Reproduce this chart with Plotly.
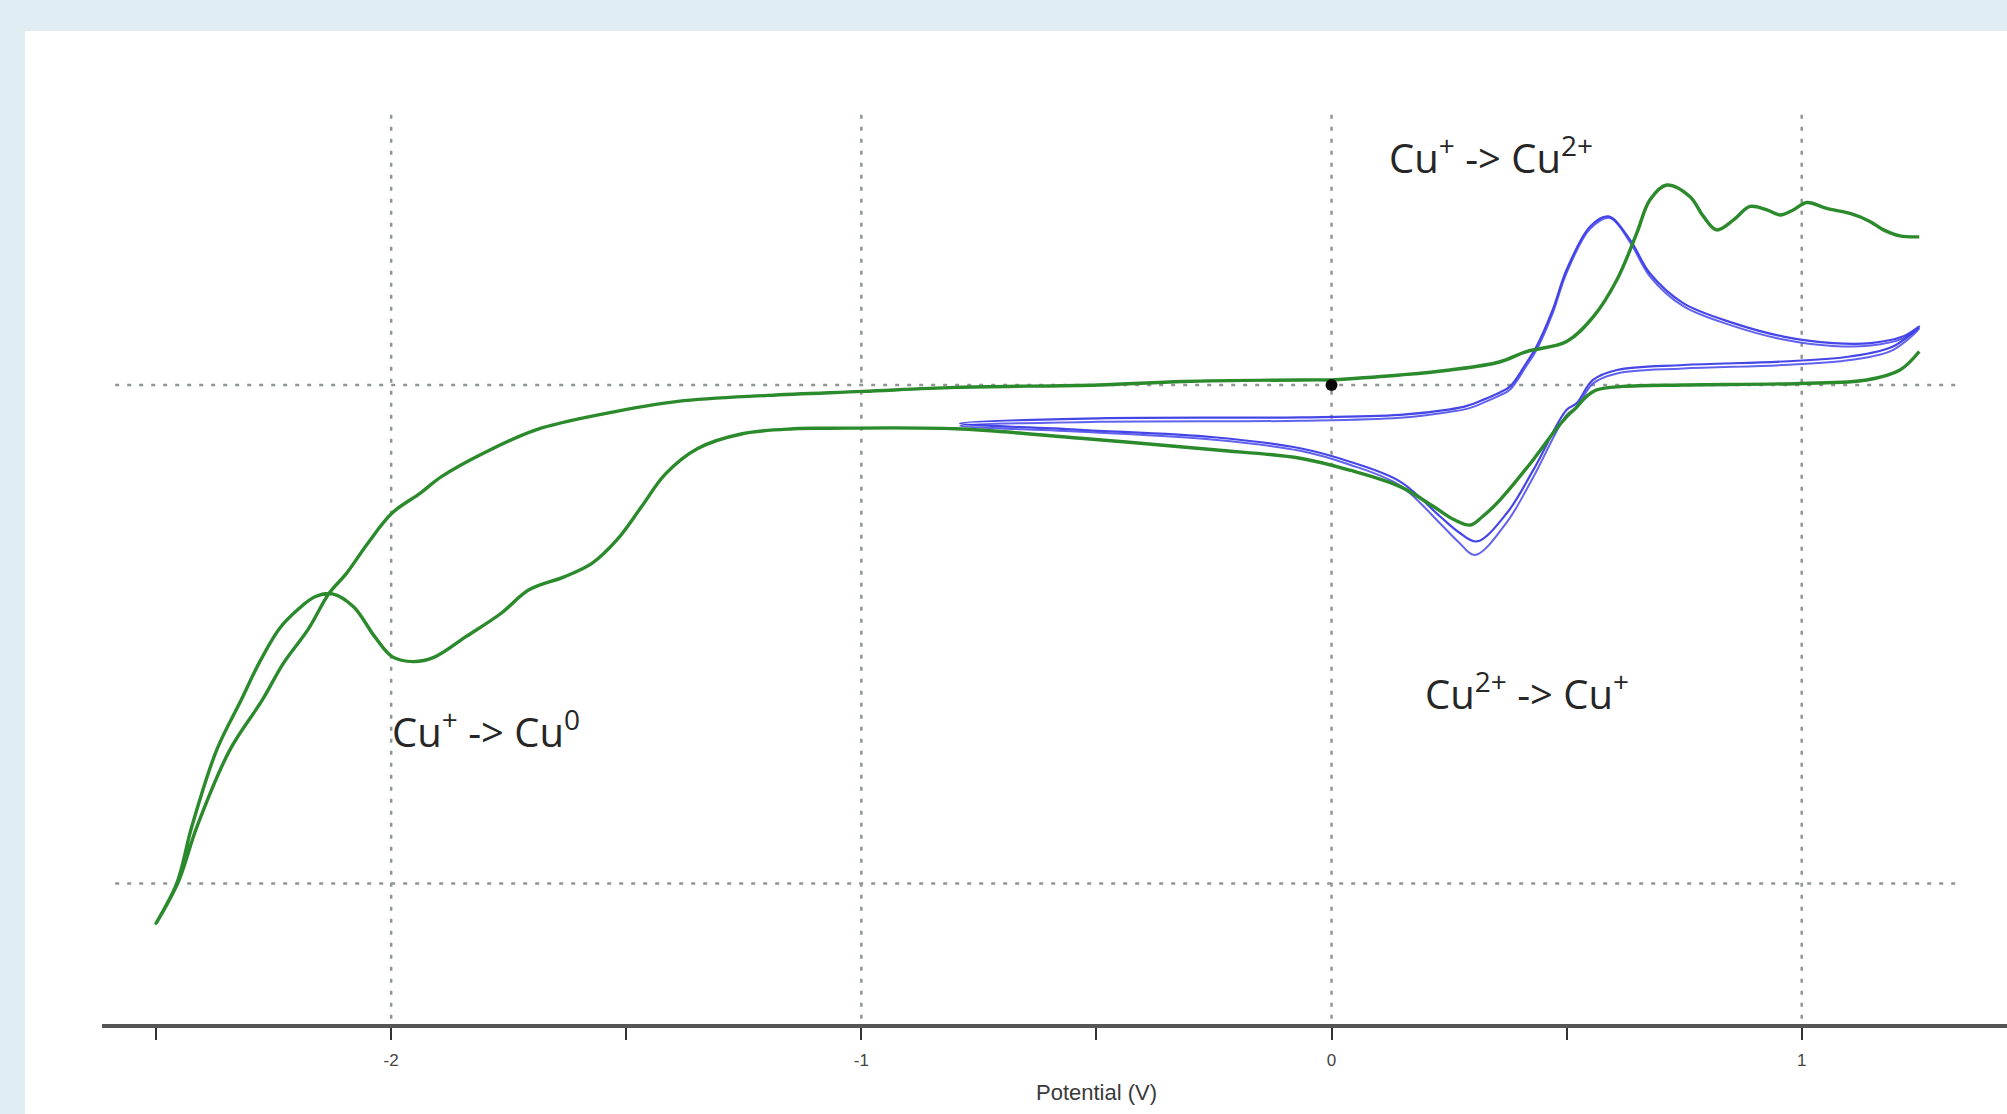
import plotly.graph_objects as go

# ---------------- data (potential in V, current in arbitrary units) ----------------
# Green CV, forward sweep: 0 V -> +1.25 V (upper branch)
green_fwd_v = [0.000, 0.146, 0.252, 0.357, 0.415, 0.500, 0.557, 0.607, 0.649, 0.677, 0.713, 0.762,
               0.791, 0.819, 0.855, 0.890, 0.926, 0.954, 0.982, 1.011, 1.053, 1.103, 1.145, 1.174,
               1.209, 1.250]
green_fwd_i = [1.0, 2.0, 3.0, 4.6, 6.7, 8.7, 13.7, 21.1, 30.4, 37.1, 40.1, 37.8,
               33.8, 31.1, 33.1, 35.8, 35.1, 34.1, 35.1, 36.6, 35.4, 34.4, 32.8, 31.1,
               29.9, 29.7]

# Green CV, reverse sweep +1.25 V -> -2.5 V, then back to 0 V
green_rev_v = [1.250, 1.209, 1.138, 0.996, 0.748, 0.620, 0.564, 0.540, 0.521, 0.500, 0.479, 0.429,
               0.358, 0.320, 0.295, 0.260, 0.217, 0.146, 0.039, -0.067, -0.250, -0.534, -0.799,
               -1.073, -1.144, -1.253, -1.349, -1.417, -1.468, -1.520, -1.573, -1.632, -1.707,
               -1.766, -1.841, -1.908, -1.953, -1.998, -2.035, -2.080, -2.125, -2.162, -2.199,
               -2.237, -2.281, -2.319, -2.371, -2.424, -2.456, -2.500,
               -2.454, -2.413, -2.343, -2.274, -2.229, -2.177, -2.132, -2.095, -2.050, -1.998,
               -1.938, -1.893, -1.804, -1.692, -1.543, -1.390, -1.199, -0.997, -0.799, -0.496,
               -0.316, -0.061, 0.000]
green_rev_i = [6.7, 3.0, 1.0, 0.3, 0.0, -0.3, -1.0, -2.5, -4.5, -6.4, -8.7, -15.0,
               -23.1, -26.5, -28.1, -27.0, -24.4, -20.4, -17.1, -14.7, -13.0, -10.7, -8.8,
               -8.7, -8.8, -9.8, -12.8, -17.9, -24.5, -31.1, -35.8, -38.5, -41.1,
               -45.8, -50.5, -54.6, -55.5, -54.5, -50.5, -44.5, -41.9, -42.5, -45.1,
               -48.8, -55.8, -63.2, -73.2, -88.6, -100.0, -108.0,
               -100.0, -88.6, -73.2, -63.2, -55.8, -49.1, -41.8, -37.8, -31.8, -25.7,
               -21.7, -18.4, -13.7, -9.0, -5.7, -3.3, -2.1, -1.3, -0.5, 0.0,
               0.7, 1.0, 1.0]

# Blue CV, cycle 1: -0.79 V -> +1.25 V -> -0.79 V
blue1_v = [-0.790, -0.496, -0.067, 0.146, 0.252, 0.288, 0.322, 0.358, 0.380, 0.415, 0.436,
           0.470, 0.500, 0.550, 0.589, 0.635, 0.677, 0.748, 0.855, 0.961, 1.067, 1.147,
           1.215, 1.250,
           1.194, 1.103, 0.960, 0.748, 0.607, 0.556, 0.521, 0.500, 0.429, 0.373, 0.309,
           0.270, 0.231, 0.146, 0.039, -0.067, -0.250, -0.534, -0.790]
blue1_i = [-7.7, -6.7, -6.5, -6.0, -4.9, -4.2, -3.0, -1.5, -0.3, 4.5, 7.7,
           15.0, 23.1, 31.8, 33.8, 29.1, 22.4, 16.4, 12.4, 9.7, 8.4, 8.4,
           9.7, 11.7,
           7.7, 5.7, 4.7, 4.0, 3.0, 1.0, -3.7, -5.0, -17.1, -25.7, -31.4,
           -29.5, -26.4, -19.4, -15.4, -12.7, -10.5, -9.0, -7.7]

# Blue CV, cycle 2
blue2_v = [-0.790, -0.496, -0.067, 0.146, 0.252, 0.288, 0.322, 0.358, 0.380, 0.415, 0.436,
           0.470, 0.500, 0.550, 0.592, 0.635, 0.677, 0.748, 0.855, 0.961, 1.067, 1.147,
           1.215, 1.250,
           1.194, 1.103, 0.960, 0.748, 0.607, 0.556, 0.521, 0.500, 0.429, 0.373, 0.305,
           0.270, 0.231, 0.146, 0.039, -0.067, -0.250, -0.534, -0.790]
blue2_i = [-8.2, -7.4, -7.2, -6.6, -5.4, -4.8, -3.6, -2.1, -0.9, 3.9, 7.0,
           14.3, 22.5, 31.3, 33.5, 28.6, 21.8, 15.8, 11.8, 9.1, 7.8, 7.9,
           9.3, 11.3,
           7.0, 5.0, 4.0, 3.3, 2.3, 0.3, -4.5, -6.0, -18.5, -27.5, -34.1,
           -31.5, -27.8, -20.2, -16.0, -13.2, -11.0, -9.4, -8.2]

start_v = [0.0]
start_i = [0.0]

tick_vals = [-2.5, -2.0, -1.5, -1.0, -0.5, 0.0, 0.5, 1.0]
tick_text = ["", "-2", "", "-1", "", "0", "", "1"]
grid_v = [-2.0, -1.0, 0.0, 1.0]
grid_i = [0.0, -100.0]

labels = [
    dict(text="Cu<sup>+</sup> -&gt; Cu<sup>2+</sup>", x=0.340, y=46.0, xanchor="center"),
    dict(text="Cu<sup>2+</sup> -&gt; Cu<sup>+</sup>", x=0.416, y=-61.4, xanchor="center"),
    dict(text="Cu<sup>+</sup> -&gt; Cu<sup>0</sup>", x=-2.003, y=-69.2, xanchor="left"),
]

# ---------------- figure ----------------
W, H = 2007, 1114
ML, MR, MT, MB = 102, 0, 31, 90
XR = [-2.615, 1.4366]
YR = [-128.2, 71.0]

GREEN = "#2b8a2b"
SMOOTH = 1.0

fig = go.Figure()

fig.add_trace(go.Scatter(x=blue2_v, y=blue2_i, mode="lines",
                         line=dict(color="rgba(70,70,235,0.85)", width=2, shape="spline", smoothing=SMOOTH),
                         hoverinfo="skip", showlegend=False))
fig.add_trace(go.Scatter(x=blue1_v, y=blue1_i, mode="lines",
                         line=dict(color="rgba(60,60,230,0.95)", width=2.2, shape="spline", smoothing=SMOOTH),
                         hoverinfo="skip", showlegend=False))
fig.add_trace(go.Scatter(x=green_rev_v, y=green_rev_i, mode="lines",
                         line=dict(color=GREEN, width=3.4, shape="spline", smoothing=SMOOTH),
                         hoverinfo="skip", showlegend=False))
fig.add_trace(go.Scatter(x=green_fwd_v, y=green_fwd_i, mode="lines",
                         line=dict(color=GREEN, width=3.4, shape="spline", smoothing=SMOOTH),
                         hoverinfo="skip", showlegend=False))
fig.add_trace(go.Scatter(x=start_v, y=start_i, mode="markers",
                         marker=dict(color="#0a0a0a", size=12),
                         hoverinfo="skip", showlegend=False))

pw = W - ML - MR
ph = H - MT - MB
shapes = [
    # white panel
    dict(type="rect", xref="paper", yref="paper", layer="below",
         x0=(25 - ML) / pw, x1=1.0, y0=-(MB + 5) / ph, y1=1.0,
         fillcolor="white", line=dict(width=0)),
]
for gv in grid_v:
    shapes.append(dict(type="line", xref="x", yref="y", layer="below",
                       x0=gv, x1=gv, y0=54.2, y1=YR[0],
                       line=dict(color="#8f9696", width=2.5, dash="4px,8px")))
for gi in grid_i:
    shapes.append(dict(type="line", xref="x", yref="y", layer="below",
                       x0=-2.587, x1=1.328, y0=gi, y1=gi,
                       line=dict(color="#8f9696", width=2.5, dash="4px,8px")))

annotations = []
for lab in labels:
    annotations.append(dict(text=lab["text"], x=lab["x"], y=lab["y"], xref="x", yref="y",
                            xanchor=lab["xanchor"], yanchor="middle", showarrow=False,
                            font=dict(family="Open Sans", size=40, color="#262626")))
annotations.append(dict(text="Potential (V)", x=-0.499, xref="x", y=-(1092 - (H - MB)) / ph,
                        yref="paper", xanchor="center", yanchor="middle", showarrow=False,
                        font=dict(family="Liberation Sans", size=22, color="#3a3a3a")))

fig.update_layout(
    width=W, height=H, autosize=False,
    margin=dict(l=ML, r=MR, t=MT, b=MB, pad=0),
    paper_bgcolor="#e0eef3",
    plot_bgcolor="white",
    shapes=shapes,
    annotations=annotations,
    showlegend=False,
    xaxis=dict(range=XR, showgrid=False, zeroline=False, showline=True,
               linecolor="#555555", linewidth=4,
               ticks="outside", ticklen=12, tickwidth=2, tickcolor="#333333",
               tickvals=tick_vals, ticktext=tick_text, ticklabelstandoff=6,
               tickfont=dict(family="Liberation Sans", size=17, color="#444444"),
               fixedrange=True),
    yaxis=dict(range=YR, visible=False, fixedrange=True),
)

fig.write_html("out.html")
